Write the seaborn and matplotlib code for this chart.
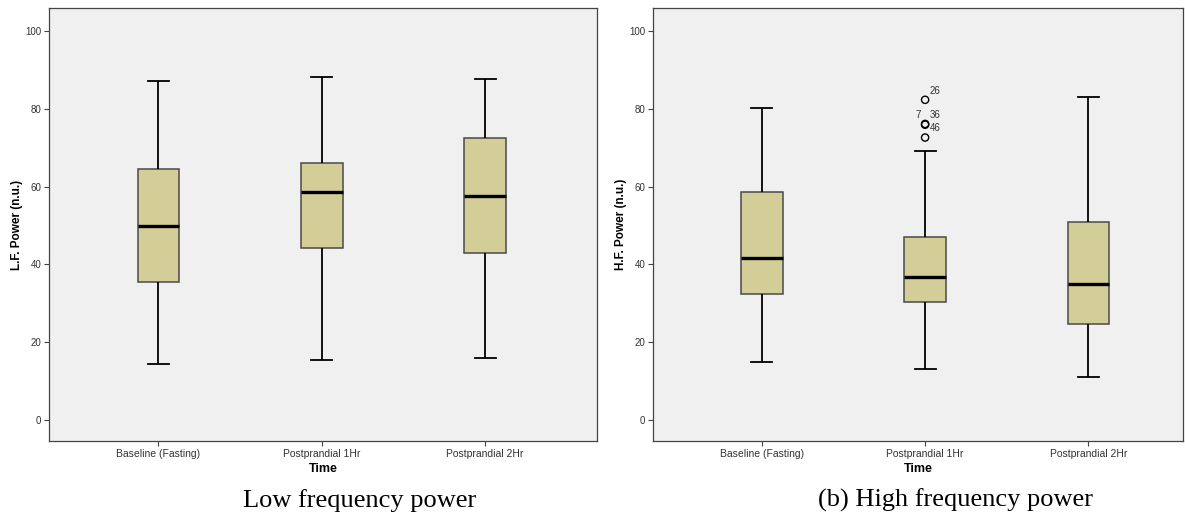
import numpy as np
import pandas as pd
import matplotlib
matplotlib.use("Agg")
import matplotlib.pyplot as plt
from matplotlib.collections import PathCollection
import seaborn as sns

# ---------------- data ----------------
categories = ["Baseline (Fasting)", "Postprandial 1Hr", "Postprandial 2Hr"]
# five-number summaries: lower whisker, Q1, median, Q3, upper whisker
lf_baseline = [14.4, 35.5, 49.9, 64.5, 87.2]
lf_post1 = [15.4, 44.1, 58.6, 66.1, 88.1]
lf_post2 = [16.0, 42.9, 57.7, 72.6, 87.7]
hf_baseline = [15.0, 32.4, 41.7, 58.7, 80.1]
hf_post1 = [13.0, 30.4, 36.8, 47.0, 69.2]
hf_post2 = [11.1, 24.6, 35.0, 51.0, 82.9]
hf_outlier_values = [82.3, 76.1, 75.9, 72.6]
hf_outlier_cases = ["26", "7", "36", "46"]
hf_outlier_group = ["Postprandial 1Hr"] * 4
y_ticks = [0, 20, 40, 60, 80, 100]
captions = ["Low frequency power", "(b) High frequency power"]
y_labels = ["L.F. Power (n.u.)", "H.F. Power (n.u.)"]
x_label = "Time"


def long_df(groups):
    rows = []
    for cat, vals in zip(categories, groups):
        for v in vals:
            rows.append({"Time": cat, "value": v})
    return pd.DataFrame(rows)


lf_df = long_df([lf_baseline, lf_post1, lf_post2])
hf_df = long_df([hf_baseline, hf_post1, hf_post2])
out_df = pd.DataFrame({"Time": hf_outlier_group, "value": hf_outlier_values,
                       "case": hf_outlier_cases})

# ---------------- style ----------------
BG = "#F0F0F0"
BOX = "#D3CE97"
SPINE = "#444444"
plt.rcParams["font.family"] = ["Liberation Sans", "DejaVu Sans"]

W, H = 1185, 514
fig = plt.figure(figsize=(W / 100, H / 100), dpi=100)
fig.patch.set_facecolor("white")


def frac_box(x0, x1, y0, y1):
    return [x0 / W, 1 - y1 / H, (x1 - x0) / W, (y1 - y0) / H]


ax1 = fig.add_axes(frac_box(49, 597, 8, 441))
ax2 = fig.add_axes(frac_box(653, 1183, 8, 441))


def draw(ax, df, ylabel, xlim):
    ax.set_facecolor(BG)
    sns.boxplot(data=df, x="Time", y="value", order=categories, ax=ax,
                whis=(0, 100), width=0.254, showfliers=False,
                color=BOX, saturation=1,
                boxprops=dict(facecolor=BOX, edgecolor="#4a4a4a", linewidth=1.1),
                medianprops=dict(color="black", linewidth=2.4),
                whiskerprops=dict(color="black", linewidth=1.3),
                capprops=dict(color="black", linewidth=1.3),
                capwidths=0.128)
    ax.set_xlim(*xlim)
    ax.set_ylim(-5.4, 105.9)
    ax.set_yticks(y_ticks)
    ax.set_yticklabels([str(t) for t in y_ticks])
    ax.set_ylabel(ylabel, fontsize=8.5, fontweight="bold", labelpad=1.5)
    ax.set_xlabel(x_label, fontsize=9, fontweight="bold", labelpad=3)
    ax.tick_params(axis="both", direction="out", length=3.6, width=0.8,
                   color=SPINE, labelcolor="#333333", pad=2)
    ax.tick_params(axis="y", labelsize=7)
    ax.tick_params(axis="x", labelsize=7.5)
    for s in ax.spines.values():
        s.set_color(SPINE)
        s.set_linewidth(0.9)
        s.set_visible(True)
    ax.grid(False)


draw(ax1, lf_df, y_labels[0], (-0.67, 2.685))
draw(ax2, hf_df, y_labels[1], (-0.667, 2.58))

# outliers in the high-frequency panel (hollow circles)
sns.stripplot(data=out_df, x="Time", y="value", order=categories, ax=ax2,
              jitter=False, size=5.2, color="black", linewidth=1.0,
              edgecolor="black", zorder=5)
for coll in ax2.collections:
    if isinstance(coll, PathCollection):
        coll.set_facecolor("none")
        coll.set_edgecolor("black")
        coll.set_linewidth(1.0)

label_offsets = {"26": (7, 6.5), "7": (-5, 6.5), "36": (7, 7), "46": (7.5, 7)}
cat_pos = {c: i for i, c in enumerate(categories)}
for _, r in out_df.iterrows():
    ax2.annotate(r["case"], xy=(cat_pos[r["Time"]], r["value"]),
                 xytext=label_offsets[r["case"]], textcoords="offset points",
                 ha="center", va="center", fontsize=7, color="#333333")
ax2.set_xlim(-0.667, 2.58)
ax2.set_ylim(-5.4, 105.9)

# captions
fig.text(359.5 / W, 1 - 507 / H, captions[0], fontsize=19,
         family=["Liberation Serif", "DejaVu Serif"], ha="center", va="baseline")
fig.text(956 / W, 1 - 507 / H, captions[1], fontsize=19,
         family=["Liberation Serif", "DejaVu Serif"], ha="center", va="baseline")

fig.savefig("out.png", dpi=100, facecolor="white")
